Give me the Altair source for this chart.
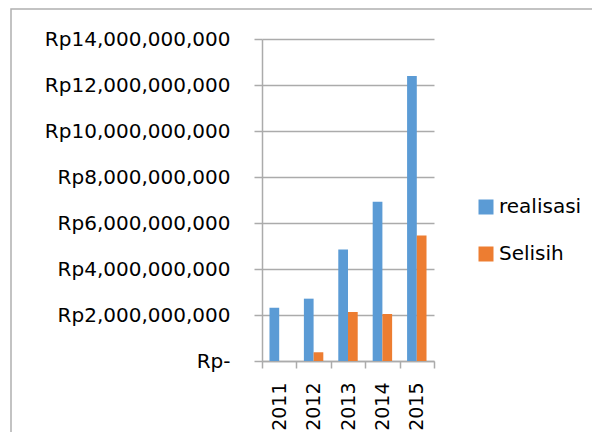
import altair as alt
import pandas as pd

years = ["2011", "2012", "2013", "2014", "2015"]
realisasi = [2.32e9, 2.71e9, 4.85e9, 6.92e9, 12.39e9]
selisih = [0.0, 0.38e9, 2.13e9, 2.04e9, 5.46e9]
series = ["realisasi", "Selisih"]
colors = ["#5B9BD5", "#ED7D31"]
y_ticks = [0, 2e9, 4e9, 6e9, 8e9, 10e9, 12e9, 14e9]

rows = []
for i, yr in enumerate(years):
    rows.append({"year": yr, "series": "realisasi", "value": realisasi[i]})
    rows.append({"year": yr, "series": "Selisih", "value": selisih[i]})
df = pd.DataFrame(rows)

FONT = "DejaVu Sans"
GRAY = "#ababab"

bars = alt.Chart(df).mark_bar().encode(
    x=alt.X(
        "year:N",
        sort=years,
        scale=alt.Scale(paddingInner=0, paddingOuter=0),
        axis=alt.Axis(
            title=None, labelAngle=270, labelAlign="right", labelBaseline="middle",
            tickBand="extent", tickSize=7, tickWidth=1.5, tickColor=GRAY,
            domainColor=GRAY, domainWidth=1.5, labelPadding=14,
            labelFont=FONT, labelFontSize=19, labelColor="#000000", grid=False,
        ),
    ),
    xOffset=alt.XOffset(
        "series:N", sort=series,
        scale=alt.Scale(domain=series, paddingInner=0, paddingOuter=0.77),
    ),
    y=alt.Y(
        "value:Q",
        scale=alt.Scale(domain=[0, 14e9], nice=False),
        axis=alt.Axis(
            title=None, values=y_ticks,
            labelExpr="datum.value == 0 ? 'Rp-' : 'Rp' + format(datum.value, ',')",
            tickSize=8, tickWidth=1.5, tickColor=GRAY,
            domainColor=GRAY, domainWidth=1.5,
            grid=True, gridColor=GRAY, gridWidth=1.5,
            labelPadding=24, labelFont=FONT, labelFontSize=20, labelColor="#000000",
            labelLimit=400,
        ),
    ),
    color=alt.Color(
        "series:N", sort=series,
        scale=alt.Scale(domain=series, range=colors),
        legend=alt.Legend(
            title=None, orient="none", legendX=214, legendY=158,
            symbolType="square", symbolSize=225, symbolStrokeWidth=0,
            labelFont=FONT, labelFontSize=20, labelColor="#000000",
            rowPadding=27, labelOffset=3, labelLimit=300,
        ),
    ),
)

border = alt.Chart(pd.DataFrame({"a": [0]})).mark_rect(
    filled=False, stroke="#b0b0b0", strokeWidth=1.5, clip=False
).encode(
    x=alt.value(-251), x2=alt.value(600), y=alt.value(-30), y2=alt.value(600)
)

chart = alt.layer(border, bars).properties(
    width=172, height=322,
    autosize=alt.AutoSizeParams(type="none"),
    padding={"left": 254, "top": 31, "right": 158, "bottom": 71},
).configure_view(stroke=None)

chart.save("out.html", embed_options={"renderer": "svg", "actions": False})
